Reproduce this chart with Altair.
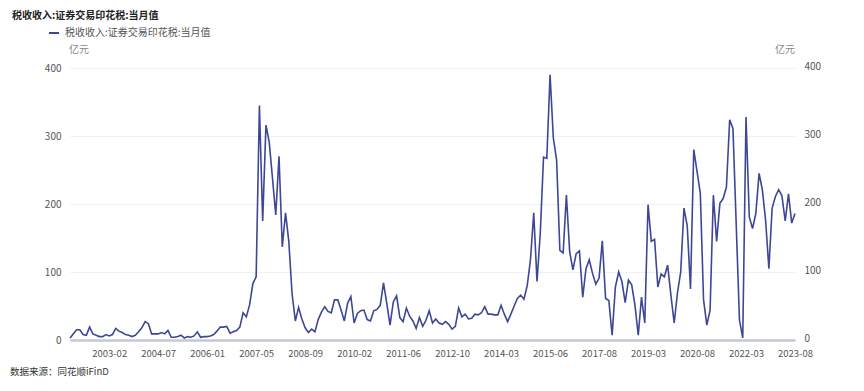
import altair as alt
import pandas as pd

FONT = "Noto Sans CJK SC"
LINE_COLOR = "#3d4795"

series_name = "税收收入:证券交易印花税:当月值"
unit_label = "亿元"
source_text = "数据来源：同花顺iFinD"

# monthly values (亿元)
values = [
    3, 9, 15, 15, 8, 7, 19, 9, 7, 5,
    5, 8, 6, 8, 17, 13, 11, 8, 7, 5,
    7, 12, 18, 27, 24, 9, 9, 9, 11, 9,
    14, 4, 4, 5, 7, 3, 5, 4, 6, 12,
    4, 5, 5, 6, 8, 13, 19, 19, 20, 10,
    12, 14, 19, 40, 34, 52, 83, 93, 345, 175,
    316, 291, 238, 184, 270, 137, 187, 145, 68, 28,
    48, 31, 18, 11, 16, 12, 30, 41, 49, 42,
    40, 59, 59, 44, 28, 54, 64, 25, 39, 43,
    44, 30, 28, 43, 45, 51, 84, 54, 22, 56,
    65, 33, 27, 47, 35, 28, 17, 33, 20, 29,
    43, 25, 31, 25, 23, 27, 23, 16, 20, 47,
    34, 38, 31, 32, 38, 37, 40, 49, 38, 38,
    37, 37, 51, 38, 27, 38, 50, 61, 66, 60,
    80, 118, 187, 86, 157, 269, 267, 390, 297, 265,
    132, 128, 213, 130, 103, 127, 131, 63, 105, 118,
    98, 82, 91, 146, 61, 58, 7, 78, 100, 86,
    55, 88, 81, 51, 7, 63, 25, 199, 145, 148,
    78, 97, 93, 110, 66, 25, 69, 100, 194, 168,
    75, 280, 248, 216, 59, 22, 44, 213, 145, 201,
    208, 225, 324, 311, 170, 29, 3, 328, 181, 164,
    186, 245, 221, 176, 105, 194, 211, 221, 212, 175,
    215, 172, 186,
]

tick_index = [12, 27, 42, 57, 72, 87, 102, 117, 132, 147, 162, 177, 192, 207, 222]
tick_labels = ["2003-02", "2004-07", "2006-01", "2007-05", "2008-09", "2010-02",
               "2011-06", "2012-10", "2014-03", "2015-06", "2017-08", "2019-03",
               "2020-08", "2022-03", "2023-08"]
y_ticks = [0, 100, 200, 300, 400]

df = pd.DataFrame({"i": list(range(len(values))), "v": values, "series": series_name})

label_expr = "[" + ",".join("'%s'" % s for s in tick_labels) + "][indexof([" + \
    ",".join(str(t) for t in tick_index) + "], datum.value)]"

x_enc = alt.X(
    "i:Q",
    scale=alt.Scale(domain=[0, len(values) - 1], nice=False, zero=False),
    axis=alt.Axis(values=tick_index, labelExpr=label_expr, grid=False, ticks=False,
                  domainColor="#c4c7da", domainWidth=2.5, labelPadding=8,
                  labelFontSize=9.5, labelColor="#555", title=None,
                  labelFlush=False, labelOverlap=False, labelBound=False),
)
y_scale = alt.Scale(domain=[0, 400], nice=False)

line = alt.Chart(df).mark_line(strokeWidth=1.6).encode(
    x=x_enc,
    y=alt.Y("v:Q", scale=y_scale,
            axis=alt.Axis(values=y_ticks, grid=True, gridColor="#eef0f7", domain=False,
                          ticks=False, labelPadding=9, labelFontSize=10,
                          labelColor="#555", title=None)),
    color=alt.Color("series:N", scale=alt.Scale(range=[LINE_COLOR]),
                    legend=alt.Legend(title=None, orient="none", legendX=-22, legendY=-41,
                                      symbolType="stroke", symbolStrokeWidth=2,
                                      symbolSize=100, labelFontSize=10,
                                      labelColor="#555", labelOffset=5)),
)

right = alt.Chart(df).mark_line(opacity=0).encode(
    x=x_enc,
    y=alt.Y("v:Q", scale=y_scale,
            axis=alt.Axis(orient="right", values=y_ticks, grid=False, domain=False,
                          ticks=False, labelPadding=9, labelFontSize=10,
                          labelOffset=-2, labelColor="#555", title=None)),
)

def text_layer(txt, x, y, align="left", size=10, weight="normal", color="#555"):
    return alt.Chart(pd.DataFrame({"t": [txt]})).mark_text(
        align=align, baseline="middle", fontSize=size, fontWeight=weight,
        color=color, font=FONT
    ).encode(x=alt.value(x), y=alt.value(y), text="t:N")

title_t = text_layer(series_name, -58, -52, size=10, weight="bold", color="#222")
unit_l = text_layer(unit_label, -1, -18, color="#888")
unit_r = text_layer(unit_label, 725, -18, align="right", color="#888")
src_t = text_layer(source_text, -60, 304, size=9.5, color="#333")

chart = alt.layer(line, right, title_t, unit_l, unit_r, src_t).resolve_scale(
    y="independent"
).properties(
    width=725, height=272,
    autosize=alt.AutoSizeParams(type="none"),
    padding={"left": 62, "top": 60, "right": 50, "bottom": 40},
).configure_view(stroke=None).configure_axis(labelFont=FONT).configure_legend(labelFont=FONT)

chart.save("out.html", embed_options={"renderer": "svg", "actions": False})
